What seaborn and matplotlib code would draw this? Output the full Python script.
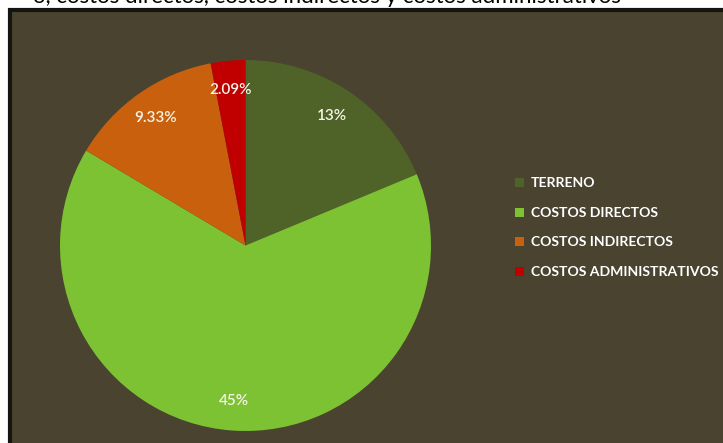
import numpy as np
import matplotlib
matplotlib.use("Agg")
import matplotlib.pyplot as plt
import seaborn as sns
from matplotlib.patches import Rectangle

categories = ["TERRENO", "COSTOS DIRECTOS", "COSTOS INDIRECTOS", "COSTOS ADMINISTRATIVOS"]
values = [13, 45, 9.33, 2.09]
value_labels = ["13%", "45%", "9.33%", "2.09%"]
colors = ["#4f6228", "#7dc232", "#c8600e", "#c00000"]

sns.set_style("white")
plt.rcParams['font.family'] = ['Lato', 'DejaVu Sans']

W, H = 723, 443
fig = plt.figure(figsize=(W / 100, H / 100), dpi=100)
fig.patch.set_facecolor("white")

# frame / background
frame = Rectangle((10 / W, -0.05), 1.0, (H - 10) / H + 0.05, transform=fig.transFigure,
                  facecolor="#4a4330", edgecolor="#141410", linewidth=3, zorder=-10)
fig.patches.append(frame)

# clipped title text at the very top (only its lower part is visible, as in the reference)
fig.text(0.045, 1 - 3 / H, "o, costos directos, costos indirectos y costos administrativos",
         fontsize=16, color="black", va="baseline", ha="left", zorder=-5)

ax = fig.add_axes([60 / W, (H - 431) / H, 371 / W, 371 / H])
ax.set_zorder(5)
ax.set_facecolor("none")
wedges, _ = ax.pie(values, colors=colors, startangle=90, counterclock=False,
                   wedgeprops=dict(linewidth=0))
for w, lab in zip(wedges, value_labels):
    ang = np.deg2rad((w.theta1 + w.theta2) / 2)
    r = 0.84
    ax.text(r * np.cos(ang), r * np.sin(ang), lab, ha="center", va="center",
            color="#f4f4e8", fontsize=11, fontweight="semibold")
ax.set_xlim(-1, 1)
ax.set_ylim(-1, 1)
ax.set_aspect("equal")
ax.axis("off")

# legend
rows_y = [183, 213, 242, 272]
for cat, col, y in zip(categories, colors, rows_y):
    fig.patches.append(Rectangle((515 / W, 1 - (y + 4) / H), 9 / W, 9 / H,
                                 transform=fig.transFigure, facecolor=col, edgecolor="none",
                                 zorder=6))
    fig.text(531 / W, 1 - y / H, cat, color="white", fontsize=10.1, fontweight="bold",
             va="center", ha="left", zorder=6)

fig.savefig("out.png", dpi=100, facecolor=fig.get_facecolor())
